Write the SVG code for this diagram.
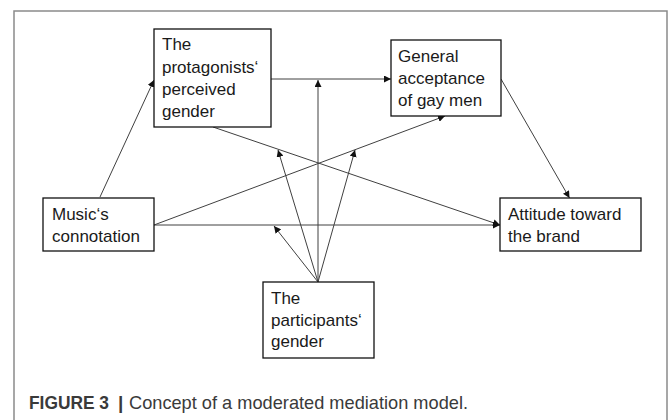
<svg xmlns="http://www.w3.org/2000/svg" width="669" height="420" viewBox="0 0 669 420">
<style>
.box{fill:#fff;stroke:#111;stroke-width:1.3}
.lbl{font-family:"Liberation Sans",Arial,sans-serif;font-size:17px;fill:#1a1a1a}
.edge{stroke:#404040;stroke-width:1;fill:none;marker-end:url(#ah)}
.cap{font-family:"Liberation Sans",Arial,sans-serif;font-size:19px;fill:#3a3a3a}
</style>
<defs>
<marker id="ah" viewBox="0 0 10 10" refX="10" refY="5" markerWidth="7" markerHeight="7" markerUnits="userSpaceOnUse" orient="auto">
<path d="M0,0 L10,5 L0,10 z" fill="#111"/>
</marker>
</defs>
<rect x="0" y="0" width="669" height="420" fill="#fff"/>
<rect x="14" y="11" width="653" height="420" fill="none" stroke="#8a8a8a" stroke-width="1.5"/>
<g id="connectors">
<line class="edge" x1="100" y1="197" x2="154" y2="80"/>
<line class="edge" x1="271" y1="79" x2="391" y2="79"/>
<line class="edge" x1="318" y1="282" x2="318" y2="80"/>
<line class="edge" x1="501" y1="79" x2="569.5" y2="198"/>
<line class="edge" x1="213" y1="127" x2="500" y2="225"/>
<line class="edge" x1="154" y1="225" x2="500" y2="225"/>
<line class="edge" x1="154" y1="225" x2="445" y2="116"/>
<line class="edge" x1="318" y1="282" x2="278" y2="150"/>
<line class="edge" x1="318" y1="282" x2="355" y2="150"/>
<line class="edge" x1="318" y1="282" x2="274" y2="226"/>
</g>
<g id="protagonists">
<rect class="box" x="154" y="29" width="117" height="98"/>
<text class="lbl" x="162" y="50">The</text>
<text class="lbl" x="162" y="72.5">protagonists‘</text>
<text class="lbl" x="162" y="95">perceived</text>
<text class="lbl" x="162" y="117">gender</text>
</g>
<g id="acceptance">
<rect class="box" x="391" y="40" width="110" height="76"/>
<text class="lbl" x="398" y="61.5">General</text>
<text class="lbl" x="398" y="84">acceptance</text>
<text class="lbl" x="398" y="106">of gay men</text>
</g>
<g id="music">
<rect class="box" x="43" y="198" width="111" height="53"/>
<text class="lbl" x="52" y="220">Music‘s</text>
<text class="lbl" x="52" y="242">connotation</text>
</g>
<g id="attitude">
<rect class="box" x="500" y="198" width="141" height="53"/>
<text class="lbl" x="508" y="220">Attitude toward</text>
<text class="lbl" x="508" y="242">the brand</text>
</g>
<g id="participants">
<rect class="box" x="263" y="282" width="111" height="76"/>
<text class="lbl" x="271" y="304">The</text>
<text class="lbl" x="271" y="325.5">participants‘</text>
<text class="lbl" x="271" y="347">gender</text>
</g>
<g id="caption">
<text class="cap" x="29" y="409" font-weight="bold" fill="#2a2a2a"><tspan textLength="80" lengthAdjust="spacingAndGlyphs">FIGURE 3</tspan><tspan x="118">|</tspan></text>
<text class="cap" x="129" y="409" textLength="339" lengthAdjust="spacingAndGlyphs">Concept of a moderated mediation model.</text>
</g>
</svg>
